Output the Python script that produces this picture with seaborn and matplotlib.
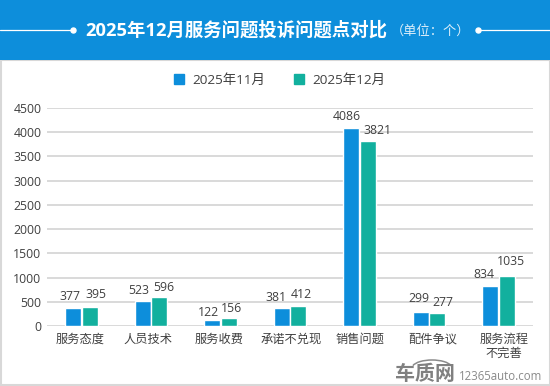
import matplotlib
matplotlib.use('Agg')
import matplotlib.pyplot as plt
from matplotlib.lines import Line2D
from matplotlib.patches import Arc, Rectangle
from matplotlib.transforms import ScaledTranslation
import pandas as pd
import seaborn as sns

# ==========================================
# 1. DATA
# ==========================================
categories = ['服务态度', '人员技术', '服务收费', '承诺不兑现', '销售问题', '配件争议', '服务流程\n不完善']
nov_values = [377, 523, 122, 381, 4086, 299, 834]
dec_values = [395, 596, 156, 412, 3821, 277, 1035]
series_names = ['2025年11月', '2025年12月']
y_ticks = [0, 500, 1000, 1500, 2000, 2500, 3000, 3500, 4000, 4500]

# label nudges in pixels (x, up) from the top centre of each bar
nov_nudge = [(-3, 11), (-4, 10), (-4, 8), (-6, 10), (-4, 12), (-2, 13), (-6, 11)]
dec_nudge = [(6, 12), (4, 10), (3, 10), (3, 12), (10, 10), (6, 10), (4, 14)]
# category labels are not quite centred under their groups in the original
tick_nudge = [-2, -3, -1, 1, 1, 4, 5.5]

df = pd.DataFrame({'category': categories, series_names[0]: nov_values, series_names[1]: dec_values})
df_long = df.melt(id_vars='category', var_name='month', value_name='count')

# ==========================================
# 2. FIGURE
# ==========================================
W, H = 550, 386
sns.set_theme(style='white')
plt.rcParams['font.family'] = ['Open Sans', 'Noto Sans CJK SC', 'DejaVu Sans']

BLUE = '#0D8EDB'
TEAL = '#12B09E'
TEXT = '#404040'

fig = plt.figure(figsize=(W / 100, H / 100), dpi=100, facecolor='white')
ax = fig.add_axes([47 / W, 1 - 326 / H, 486 / W, 218 / H])


def px(x, y):
    return x / W, 1 - y / H


# card border + header band, kept behind the axes
fig.add_artist(Rectangle(px(0.5, 385), 549 / W, 325 / H, transform=fig.transFigure,
                         facecolor='white', edgecolor='#D8D8D8', lw=1.5, zorder=-2))
fig.add_artist(Rectangle(px(0, 60), 1, 60 / H, transform=fig.transFigure, facecolor=BLUE, edgecolor='none', zorder=-1))

for x0, x1, xd in [(0, 72, 73), (479, 550, 478)]:
    xs, ys = zip(px(x0, 30), px(x1, 30))
    fig.add_artist(Line2D(xs, ys, color='white', lw=0.9, transform=fig.transFigure))
    dx, dy = px(xd, 30)
    fig.add_artist(Line2D([dx], [dy], marker='o', ms=3.6, color='white', transform=fig.transFigure))

fig.text(*px(85, 30), '2025年12月服务问题投诉问题点对比', color='white', fontsize=13.2, fontweight='bold', va='center', ha='left')
fig.text(*px(391, 31), '（单位：个）', color='#DDEFFA', fontsize=9.5, va='center', ha='left')

# ==========================================
# 3. BARS
# ==========================================
sns.barplot(data=df_long, x='category', y='count', hue='month', palette=[BLUE, TEAL],
            width=0.48, gap=0.04, legend=False, ax=ax, zorder=3, saturation=1)

ax.set_ylim(0, 4500)
ax.set_xlim(-0.5, len(categories) - 0.5)
ax.set_yticks(y_ticks)
ax.set_xlabel('')
ax.set_ylabel('')
ax.grid(axis='y', color='#D0D0D0', lw=1.1, zorder=0)
ax.grid(axis='x', visible=False)
ax.set_axisbelow(True)
ax.tick_params(axis='y', length=0, labelsize=8.8, labelcolor=TEXT, pad=4)
ax.tick_params(axis='x', length=0, labelsize=8.8, labelcolor=TEXT, pad=5)
for lab, nudge in zip(ax.get_xticklabels(), tick_nudge):
    lab.set_linespacing(1.05)
    lab.set_transform(lab.get_transform() + ScaledTranslation(nudge / 100, 0, fig.dpi_scale_trans))
sns.despine(ax=ax, left=True, bottom=True)
ax.set_facecolor('none')

# value labels spread apart, like the original
for cont, nudges in zip(ax.containers, (nov_nudge, dec_nudge)):
    for bar, (dx, dy) in zip(cont, nudges):
        val = bar.get_height()
        ax.annotate(f'{int(val)}', (bar.get_x() + bar.get_width() / 2, val), xytext=(dx, dy),
                    textcoords='offset pixels', ha='center', va='center', fontsize=8.8, color=TEXT)

# legend
handles = [Rectangle((0, 0), 1, 1, color=c) for c in (BLUE, TEAL)]
fig.legend(handles, series_names, loc='center', bbox_to_anchor=px(280, 80), ncol=2, frameon=False,
           fontsize=9.7, labelcolor=TEXT, handlelength=0.74, handleheight=0.74, columnspacing=2.15, handletextpad=0.6)

# watermark
fig.text(*px(425, 373), '车质网', color='#808080', fontsize=14.4, fontweight='bold', va='center', ha='center', family=['Noto Sans CJK SC'])
fig.text(*px(459, 377), '12365auto.com', color='#8A8A8A', fontsize=8.3, va='center', ha='left')
fig.add_artist(Arc(px(432, 368), 40 / W, 16 / H, theta1=10, theta2=170, color='#8A8A8A', lw=1.1, transform=fig.transFigure))

fig.savefig('out.png', dpi=100)
